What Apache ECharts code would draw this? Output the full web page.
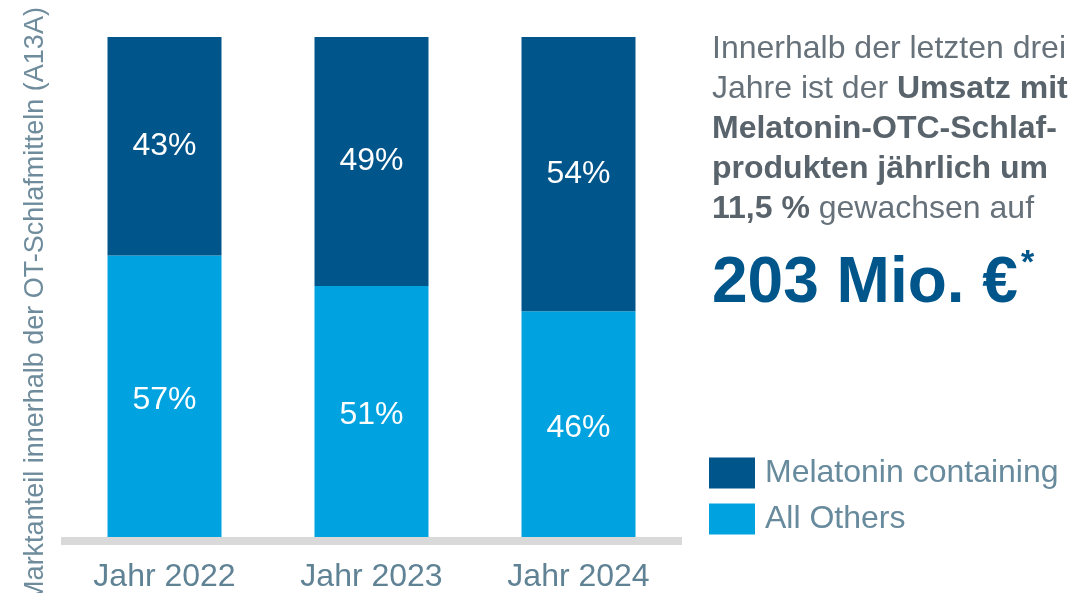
<!DOCTYPE html>
<html><head><meta charset="utf-8">
<script src="https://cdn.jsdelivr.net/npm/echarts@6/dist/echarts.min.js"></script>
<style>html,body{margin:0;padding:0;background:#fff}#c{width:1088px;height:593px}</style>
</head><body><div id="c"></div>
<script>
const categories = ['Jahr 2022', 'Jahr 2023', 'Jahr 2024'];
const melatonin = [43, 49, 54];
const others = [57, 51, 46];
const seriesNames = ['Melatonin containing', 'All Others'];
const yTitle = 'Marktanteil innerhalb der OT-Schlafmitteln (A13A)';
const headline = '203 Mio. €';

const FONT = '"Liberation Sans", Arial, sans-serif';
const chart = echarts.init(document.getElementById('c'));
const lbl = {show: true, position: 'inside', color: '#fff', fontSize: 32, fontFamily: FONT, formatter: p => p.value + '%'};
chart.setOption({
  animation: false,
  grid: {left: 61, right: 406, top: 37, bottom: 48},
  xAxis: {
    type: 'category', data: categories, z: 10, offset: -4,
    axisLine: {onZero: false, lineStyle: {color: '#d9d9d9', width: 8, cap: 'butt'}},
    axisTick: {show: false},
    axisLabel: {color: '#5f8294', fontSize: 32, fontFamily: FONT, margin: 20}
  },
  yAxis: {
    type: 'value', min: 0, max: 100,
    axisLine: {show: false}, axisTick: {show: false}, axisLabel: {show: false}, splitLine: {show: false}
  },
  legend: {
    data: seriesNames, orient: 'vertical', left: 704, top: 452,
    itemWidth: 46, itemHeight: 31, itemGap: 14, icon: 'rect',
    textStyle: {color: '#688a9d', fontSize: 32, fontFamily: FONT, padding: [0, 0, 0, 5]}
  },
  series: [
    {name: seriesNames[1], type: 'bar', stack: 's', data: others, barWidth: 114, itemStyle: {color: '#00a3e0'}, label: lbl},
    {name: seriesNames[0], type: 'bar', stack: 's', data: melatonin, barWidth: 114, itemStyle: {color: '#00558a'}, label: lbl}
  ],
  graphic: [
    {type: 'text', x: 36, y: 305, rotation: Math.PI / 2,
     style: {text: yTitle, fill: '#6f8c9d', font: '27px ' + FONT, align: 'center', verticalAlign: 'middle'}},
    {type: 'text', left: 712, top: 33,
     style: {
       text: '{n|Innerhalb der letzten drei}\n{n|Jahre ist der }{b|Umsatz mit}\n{b|Melatonin-OTC-Schlaf-}\n{b|produkten jährlich um}\n{b|11,5 %}{n| gewachsen auf}',
       rich: {
         n: {fontSize: 32, fontFamily: FONT, fill: '#66717a', lineHeight: 40},
         b: {fontSize: 32, fontFamily: FONT, fontWeight: 'bold', fill: '#59636b', lineHeight: 40}
       }
     }},
    {type: 'text', x: 712, y: 284,
     style: {text: headline, fill: '#00558a', font: 'bold 64px ' + FONT, verticalAlign: 'middle'}},
    {type: 'text', x: 1021, y: 264,
     style: {text: '*', fill: '#00558a', font: 'bold 34px ' + FONT, verticalAlign: 'middle'}}
  ]
});
</script></body></html>
